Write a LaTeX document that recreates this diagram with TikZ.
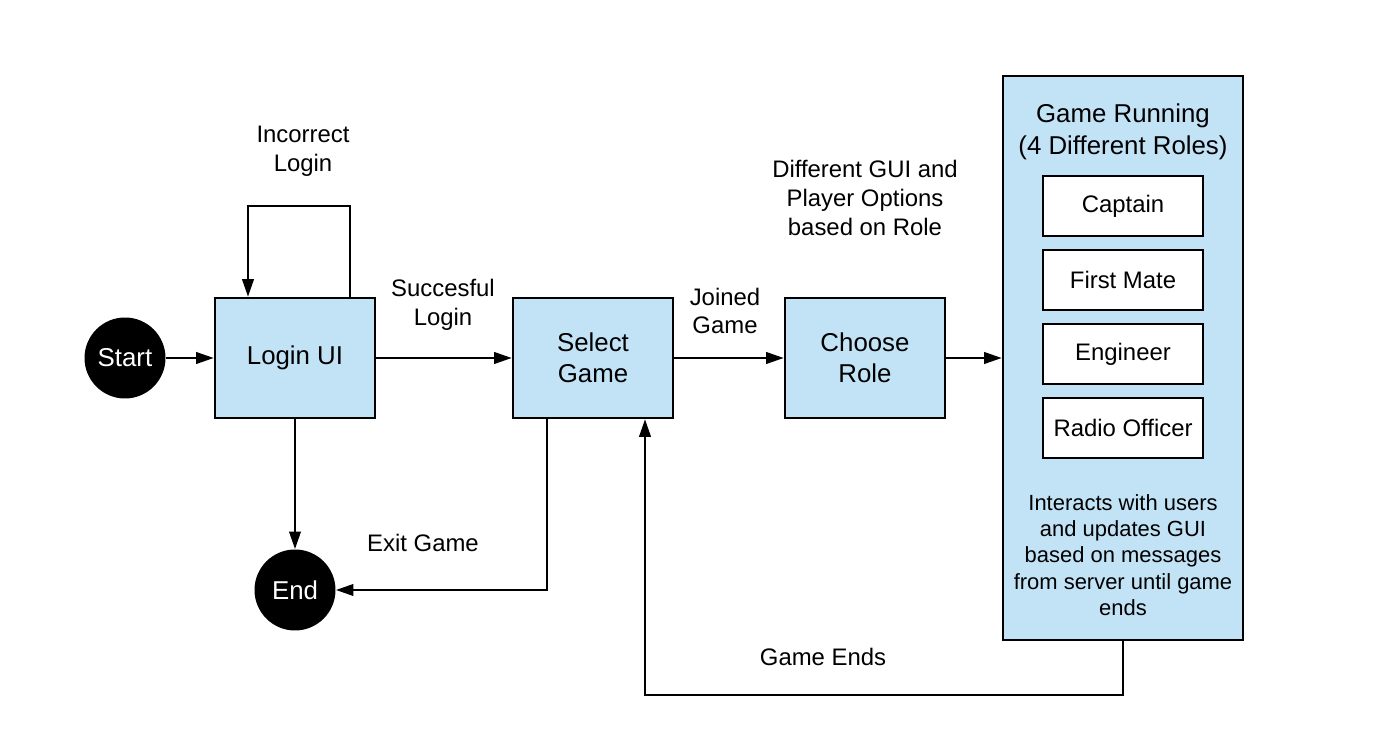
\documentclass[tikz,border=0pt]{standalone}
\usepackage{fontspec}
\setmainfont{Liberation Sans}
\usepackage{tikz}
\usetikzlibrary{arrows.meta}
\usetikzlibrary{positioning}
\usepackage{xcolor}
\definecolor{boxblue}{HTML}{C2E3F6}

\tikzset{
  state/.style={draw=black,line width=1.4pt,fill=boxblue,minimum width=3.2cm,minimum height=2.4cm,align=center,font=\fontsize{14.7}{17.8}\selectfont},
  role/.style={draw=black,line width=1.4pt,fill=white,minimum width=3.2cm,minimum height=1.2cm,align=center,font=\fontsize{13.6}{16}\selectfont},
  terminal/.style={circle,fill=black,text=white,minimum size=1.62cm,inner sep=0pt,font=\fontsize{14.7}{17.8}\selectfont},
  lbl/.style={align=center,font=\fontsize{13.6}{16.4}\selectfont},
  arr/.style={line width=1.4pt,-{Triangle[length=10pt,width=6.5pt]}},
  wire/.style={line width=1.4pt}
}

\begin{document}
\begin{tikzpicture}[x=0.02cm,y=-0.02cm]
  \useasboundingbox (0,0) rectangle (1394,756);
  % states
  \node[terminal] (start) at (125,358) {Start};
  \node[state] (login) at (295,358) {Login UI};
  \node[state] (select) at (593,358) {Select\\Game};
  \node[state] (role) at (865,358) {Choose\\Role};
  \node[terminal] (finish) at (295,590) {End};
  % game running with the four roles
  \node[draw=black,line width=1.4pt,fill=boxblue,minimum width=4.8cm,minimum height=11.28cm] (game) at (1123,358) {};
  \node[align=center,font=\fontsize{14.7}{18}\selectfont] (gametitle) at (1123,132) {Game Running\\(4 Different Roles)};
  \node[role] (captain) at (1123,206) {Captain};
  \node[role] (mate) at (1123,280) {First Mate};
  \node[role] (engineer) at (1123,354) {Engineer};
  \node[role] (radio) at (1123,428) {Radio Officer};
  \node[align=center,font=\fontsize{12.5}{15}\selectfont] (gamenote) at (1123,555) {Interacts with users\\and updates GUI\\based on messages\\from server until game\\ends};
  % labels
  \node[lbl] (incorrect) at (303,151) {Incorrect\\Login};
  \node[lbl] (success) at (443,305) {Succesful\\Login};
  \node[lbl] (joined) at (725,311) {Joined\\Game};
  \node[lbl] (gui) at (865,198) {Different GUI and\\Player Options\\based on Role};
  \node[lbl] (exit) at (423,543) {Exit Game};
  \node[lbl] (ends) at (823,657) {Game Ends};
  % bends
  \coordinate (loopR) at (350,206);
  \coordinate (loopL) at (248,206);
  \coordinate (exitC) at (547,590);
  \coordinate (endsR) at (1123,695);
  \coordinate (endsL) at (645,695);
  % connectors
  \draw[arr] (start) -- (login);
  \draw[arr] (login) -- (select);
  \draw[arr] (select) -- (role);
  \draw[arr] (role) -- (game.west |- role);
  \draw[arr] (login.north -| loopR) -- (loopR) -- (loopL) -- (login.north -| loopL);
  \draw[arr] (login) -- (finish);
  \draw[arr] (select.south -| exitC) -- (exitC) -- (finish);
  \draw[arr] (game.south) -- (endsR) -- (endsL) -- (select.south -| endsL);
\end{tikzpicture}
\end{document}
